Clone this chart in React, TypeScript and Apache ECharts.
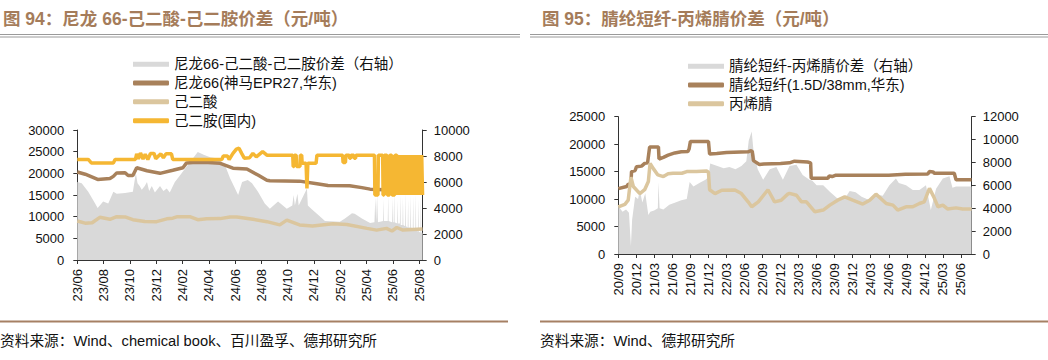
import React, { useEffect, useRef } from "react";
import * as echarts from "echarts";

// ---------- Left chart: 尼龙66 ----------
const leftXLabels = ["23/06","23/08","23/10","23/12","24/02","24/04","24/06","24/08","24/10","24/12","25/02","25/04","25/06","25/08"];
const leftNames = ["尼龙66-己二酸-己二胺价差（右轴）", "尼龙66(神马EPR27,华东)", "己二酸", "己二胺(国内)"];

const nylon66: [string, number][] = [
  ["2023-06-01",20300],["2023-06-19",19800],["2023-07-18",18600],["2023-08-16",18800],["2023-08-24",19300],
  ["2023-09-01",20100],["2023-09-20",20150],["2023-09-27",19500],["2023-10-08",19500],["2023-10-17",21300],
  ["2023-11-10",20600],["2023-12-10",20000],["2024-01-09",20700],["2024-02-02",21300],["2024-02-10",22400],
  ["2024-02-24",22500],["2024-03-30",22500],["2024-04-27",22300],["2024-05-27",21200],["2024-06-28",21000],
  ["2024-07-24",19600],["2024-08-14",18400],["2024-08-21",18300],["2024-10-29",18200],["2024-12-08",17600],
  ["2025-01-03",17200],["2025-02-21",17150],["2025-03-21",16700],["2025-04-09",16350],["2025-05-13",16200],
  ["2025-06-17",16000],["2025-08-09",15900]
];

const adipic: [string, number][] = [
  ["2023-06-01",9000],["2023-06-19",8500],["2023-07-05",8600],["2023-07-23",9850],["2023-08-16",9400],
  ["2023-09-01",10000],["2023-09-20",9950],["2023-10-08",9300],["2023-11-05",8900],["2023-12-02",8850],
  ["2023-12-26",9500],["2024-01-09",9650],["2024-01-20",10000],["2024-02-17",10000],["2024-03-06",9300],
  ["2024-03-27",9500],["2024-04-27",9550],["2024-05-20",9900],["2024-06-05",9900],["2024-07-12",9400],
  ["2024-08-14",8850],["2024-09-13",8100],["2024-09-29",9200],["2024-10-29",8100],["2024-11-28",7850],
  ["2025-01-15",8350],["2025-02-15",8200],["2025-04-02",7300],["2025-04-24",6900],["2025-05-17",7300],
  ["2025-05-30",6700],["2025-06-10",7500],["2025-06-24",6900],["2025-08-09",7150]
];

const hmda: [string, number][] = [
  ["2023-06-01",23200],["2023-06-26",23200],["2023-07-03",22400],["2023-08-24",22400],["2023-08-28",23200],
  ["2023-10-14",23200],["2023-10-17",24500],["2023-10-21",23300],["2023-10-26",24700],["2023-11-01",23300],
  ["2023-11-06",24400],["2023-11-12",23200],["2023-11-18",24600],["2023-11-26",24600],["2023-11-30",23400],
  ["2023-12-12",24500],["2023-12-18",23600],["2023-12-24",24500],["2024-01-06",24500],["2024-01-09",23200],
  ["2024-05-01",23200],["2024-05-04",24000],["2024-05-14",24000],["2024-05-18",23200],["2024-05-27",24600],
  ["2024-06-04",25600],["2024-06-10",25800],["2024-06-16",24600],["2024-06-22",23500],["2024-07-04",23600],
  ["2024-07-12",24600],["2024-07-20",23800],["2024-08-04",25000],["2024-08-14",24200],
  ["2024-10-13",24200],["2024-10-14",21600],["2024-10-16",21600],["2024-10-17",24200],["2024-10-21",24200],
  ["2024-10-22",21600],["2024-10-30",21600],["2024-10-31",24200],["2024-11-03",24200],["2024-11-04",22300],
  ["2024-11-13",22300],["2024-11-15",16500],["2024-11-17",22300],["2024-12-06",22300],["2024-12-08",24200],
  ["2025-02-06",24200],["2025-02-07",22500],["2025-02-12",22500],["2025-02-13",24200],["2025-02-20",24200],
  ["2025-02-21",23500],["2025-02-23",23500],["2025-02-24",24200],["2025-03-02",24200],["2025-03-03",23500],
  ["2025-03-06",23500],["2025-03-07",24200],
  ["2025-04-19",24200],["2025-04-20",15000],["2025-04-27",15000],["2025-04-28",24200],
  ["2025-05-08",24200],["2025-05-09",15000],["2025-05-11",15000],["2025-05-12",24200],
  ["2025-05-18",24200],["2025-05-19",15000],["2025-05-24",15000],["2025-05-25",24200],
  ["2025-05-29",24200],["2025-05-30",15000],["2025-06-05",15000],["2025-06-06",24200],
  ["2025-06-10",24200],["2025-06-11",15000],["2025-06-14",24200],["2025-06-17",15000],["2025-06-20",24200],
  ["2025-06-23",15000],["2025-06-26",24200],["2025-06-29",15000],["2025-07-02",24200],["2025-07-05",15000],
  ["2025-07-08",24200],["2025-07-11",15000],["2025-07-14",24200],["2025-07-17",15000],["2025-07-20",24200],
  ["2025-07-23",15000],["2025-07-26",24200],["2025-07-29",15000],["2025-08-01",24200],["2025-08-04",15000],
  ["2025-08-07",24200],["2025-08-09",15000]
];

const nylonSpread: [string, number][] = [
  ["2023-06-01",6000],["2023-06-11",5900],["2023-06-26",5250],["2023-07-12",4350],["2023-07-18",4000],
  ["2023-07-31",4500],["2023-08-12",4350],["2023-08-24",5250],["2023-09-01",5100],["2023-09-20",5150],
  ["2023-10-08",5250],["2023-10-15",6700],["2023-10-19",5900],["2023-10-24",5700],["2023-10-29",5400],
  ["2023-11-05",5700],["2023-11-10",6000],["2023-11-15",5300],["2023-11-21",5700],["2023-11-28",5200],
  ["2023-12-10",5700],["2023-12-18",5300],["2023-12-26",5500],["2024-01-02",5200],["2024-01-14",6000],
  ["2024-01-26",6500],["2024-02-06",7000],["2024-02-17",7500],["2024-03-06",8300],["2024-03-20",8100],
  ["2024-04-04",7900],["2024-04-22",7800],["2024-05-08",7300],["2024-05-20",6300],["2024-06-08",5000],
  ["2024-06-17",6000],["2024-06-30",6150],["2024-07-10",5900],["2024-07-24",5250],["2024-08-09",4350],
  ["2024-08-21",3950],["2024-09-09",4500],["2024-09-29",3950],["2024-10-12",4200],["2024-10-15",5000],
  ["2024-10-18",4200],["2024-10-24",5100],["2024-10-27",4200],["2024-11-15",5500],["2024-11-17",4200],
  ["2024-11-26",3900],["2024-12-10",3500],["2024-12-27",3000],["2025-01-31",2950],["2025-02-11",3200],
  ["2025-02-26",3600],["2025-03-04",3550],["2025-03-21",3200],["2025-04-09",2850],["2025-04-19",2900],
  ["2025-04-21",4800],["2025-04-23",2900],["2025-04-25",5000],["2025-04-27",2900],["2025-05-09",3000],
  ["2025-05-10",4700],["2025-05-11",3000],["2025-05-20",3000],["2025-05-21",5000],["2025-05-22",3000],
  ["2025-05-30",2900],["2025-05-31",4800],["2025-06-01",2900],["2025-06-03",2900],["2025-06-04",5200],
  ["2025-06-05",2900],["2025-06-11",2800],["2025-06-12",4600],["2025-06-13",2800],["2025-06-17",2800],
  ["2025-06-18",5000],["2025-06-19",2700],["2025-06-23",2700],["2025-06-24",4800],["2025-06-25",2700],
  ["2025-06-29",2600],["2025-06-30",5200],["2025-07-01",2600],["2025-07-05",2500],["2025-07-06",4700],
  ["2025-07-07",2500],["2025-07-11",2500],["2025-07-12",5000],["2025-07-13",2500],["2025-07-17",2400],
  ["2025-07-18",4900],["2025-07-19",2400],["2025-07-23",2300],["2025-07-24",5100],["2025-07-25",2300],
  ["2025-07-29",2200],["2025-07-30",4700],["2025-07-31",2200],["2025-08-04",2100],["2025-08-05",4900],
  ["2025-08-06",2100],["2025-08-09",2100]
];

// ---------- Right chart: 腈纶短纤 ----------
const rightXLabels = ["20/09","20/12","21/03","21/06","21/09","21/12","22/03","22/06","22/09","22/12","23/03","23/06","23/09","23/12","24/03","24/06","24/09","24/12","25/03","25/06"];
const rightNames = ["腈纶短纤-丙烯腈价差（右轴）", "腈纶短纤(1.5D/38mm,华东)", "丙烯腈"];

const acrylicFiber: [string, number][] = [
  ["2020-09-01",11900],["2020-10-13",12300],["2020-10-21",12700],["2020-11-04",12700],["2020-11-07",15000],
  ["2020-11-25",15200],["2020-12-02",15900],["2020-12-28",16000],["2021-01-13",16500],["2021-01-28",16600],
  ["2021-02-07",19500],["2021-03-22",19500],["2021-03-25",17300],["2021-04-16",17600],["2021-05-10",18000],
  ["2021-06-13",18400],["2021-07-16",18600],["2021-08-19",18650],["2021-08-25",19100],["2021-09-01",20500],
  ["2021-12-01",20500],["2021-12-07",18200],["2022-01-13",18300],["2022-03-01",18500],["2022-06-19",18600],
  ["2022-07-01",18800],["2022-07-10",18700],["2022-07-16",17000],["2022-08-16",16300],["2022-09-07",16400],
  ["2022-12-01",16500],["2023-01-16",16600],["2023-02-10",16900],["2023-04-16",16750],["2023-05-01",16600],
  ["2023-05-04",13800],["2023-07-28",13800],["2023-08-04",14200],["2023-08-19",14100],["2023-09-07",14350],
  ["2024-06-01",14350],["2024-08-25",14500],["2024-12-16",14550],["2024-12-25",15000],["2025-01-13",14950],
  ["2025-01-19",14700],["2025-04-28",14700],["2025-05-07",13500],["2025-07-25",13500]
];

const acrylonitrile: [string, number][] = [
  ["2020-09-01",8600],["2020-10-04",9050],["2020-10-21",9800],["2020-11-04",14000],["2020-11-16",12300],
  ["2020-12-19",11000],["2021-01-13",11700],["2021-02-01",13200],["2021-02-09",16500],["2021-02-25",15500],
  ["2021-03-19",14400],["2021-04-16",14100],["2021-05-10",14600],["2021-06-04",14700],["2021-07-19",14700],
  ["2021-08-13",15000],["2021-10-01",15000],["2021-11-22",15100],["2021-12-01",14900],["2021-12-07",11700],
  ["2022-01-04",11000],["2022-02-07",11600],["2022-04-13",11650],["2022-05-16",11000],["2022-06-19",9500],
  ["2022-07-07",8600],["2022-08-10",9500],["2022-09-28",11700],["2022-11-01",9500],["2022-12-04",9800],
  ["2023-01-07",10900],["2023-01-16",11050],["2023-02-19",10700],["2023-03-16",9500],["2023-04-10",9500],
  ["2023-05-22",7700],["2023-07-04",8000],["2023-08-07",8900],["2023-09-16",9800],["2023-10-22",10400],
  ["2023-12-01",9800],["2024-01-22",9100],["2024-02-25",9800],["2024-03-28",10900],["2024-05-19",9200],
  ["2024-06-22",8900],["2024-07-16",8000],["2024-08-28",8600],["2024-10-01",8600],["2024-11-04",9200],
  ["2024-11-28",9500],["2024-12-25",11950],["2025-01-16",10400],["2025-02-06",8600],["2025-03-01",8900],
  ["2025-03-25",8200],["2025-05-07",8400],["2025-06-10",8200],["2025-07-25",8200]
];

const acrylicSpread: [string, number][] = [
  ["2020-09-01",4200],["2020-09-22",3700],["2020-10-10",3900],["2020-10-25",3600],["2020-11-04",700],
  ["2020-11-10",3000],["2020-11-25",5000],["2020-12-10",4800],["2020-12-19",5600],["2021-01-01",4500],
  ["2021-01-16",5300],["2021-02-01",3400],["2021-02-10",3700],["2021-02-28",3800],["2021-03-19",4000],
  ["2021-03-22",6300],["2021-03-28",4000],["2021-04-16",3900],["2021-05-16",4300],["2021-06-16",4500],
  ["2021-07-16",4700],["2021-08-13",4800],["2021-08-28",6300],["2021-09-16",5900],["2021-10-16",6200],
  ["2021-11-16",6500],["2021-12-01",6700],["2021-12-10",7900],["2022-01-16",7700],["2022-02-16",7500],
  ["2022-03-16",7600],["2022-04-16",7400],["2022-05-16",7700],["2022-06-10",8100],["2022-06-22",9900],
  ["2022-07-07",10700],["2022-07-16",9100],["2022-08-07",7400],["2022-09-04",6500],["2022-10-07",7400],
  ["2022-11-10",7600],["2022-12-13",6500],["2023-01-16",7700],["2023-02-19",7800],["2023-03-22",6900],
  ["2023-04-25",6500],["2023-05-10",6400],["2023-06-01",6000],["2023-07-04",6000],["2023-08-07",5450],
  ["2023-09-25",4700],["2023-10-28",5000],["2023-11-16",5500],["2023-12-16",5400],["2024-01-16",5000],
  ["2024-02-25",4700],["2024-03-28",5200],["2024-05-01",5100],["2024-06-04",6000],["2024-07-07",6600],
  ["2024-07-22",6200],["2024-08-28",6000],["2024-10-01",5600],["2024-11-04",5600],["2024-12-07",6000],
  ["2025-01-01",3850],["2025-01-28",5700],["2025-03-01",6600],["2025-04-04",6800],["2025-04-19",5800],
  ["2025-05-07",5900],["2025-07-25",5900]
];

const C_GRAY = "#D9D9D9";
const C_BROWN = "#A8815B";
const C_TAN = "#DBC69E";
const C_YELLOW = "#F5B733";
const C_TITLE = "#A57C5A";
const FONT = '"Liberation Sans", "Noto Sans CJK SC", sans-serif';

function monthsSince(d: string, y0: number, m0: number): number {
  const [y, m, day] = d.split("-").map(Number);
  const dim = new Date(Date.UTC(y, m, 0)).getUTCDate();
  return (y - y0) * 12 + (m - m0) + (day - 1) / dim;
}

const toXY = (arr: [string, number][], y0: number, m0: number) =>
  arr.map(([d, v]) => [monthsSince(d, y0, m0), v]);

const labelFmt = (labels: string[], step: number) => (v: number) => {
  const i = v / step;
  const r = Math.round(i);
  if (Math.abs(i - r) > 1e-6) return "";
  return labels[r] ?? "";
};

const axisLineStyle = { color: "#333", width: 1 };

function xAxisCfg(gridIndex: number, max: number, interval: number, labels: string[]) {
  return {
    type: "value",
    gridIndex,
    min: 0,
    max,
    interval,
    axisLine: { show: true, onZero: false, lineStyle: axisLineStyle },
    axisTick: { show: true, inside: false, length: 4, lineStyle: axisLineStyle },
    splitLine: { show: false },
    axisLabel: {
      rotate: 90,
      margin: 9,
      fontSize: 13,
      color: "#111",
      fontFamily: FONT,
      showMaxLabel: false,
      formatter: labelFmt(labels, interval),
    },
  };
}

function yAxisCfg(gridIndex: number, position: string, max: number, interval: number) {
  return {
    type: "value",
    gridIndex,
    position,
    min: 0,
    max,
    interval,
    axisLine: { show: true, lineStyle: axisLineStyle },
    axisTick: { show: true, inside: false, length: 4, lineStyle: axisLineStyle },
    splitLine: { show: false },
    axisLabel: {
      fontSize: 13, color: "#111", fontFamily: FONT,
      margin: position === "left" ? 13 : 11,
      formatter: (v: number) => String(v),
    },
  };
}

function lineSeries(name: string, data: number[][], color: string, xi: number, yi: number, z: number) {
  return {
    name, type: "line", xAxisIndex: xi, yAxisIndex: yi, data, color,
    symbol: "none", showSymbol: false, z,
    lineStyle: { color, width: 3.5 },
  };
}

function areaSeries(name: string, data: number[][], xi: number, yi: number) {
  return {
    name, type: "line", xAxisIndex: xi, yAxisIndex: yi, data, color: C_GRAY,
    symbol: "none", showSymbol: false, z: 1,
    lineStyle: { width: 0, color: C_GRAY },
    areaStyle: { color: C_GRAY, opacity: 1 },
  };
}

function legendCfg(left: number, top: number, names: string[]) {
  return {
    orient: "vertical",
    left, top,
    itemWidth: 36, itemHeight: 5, itemGap: 4.3,
    selectedMode: false,
    textStyle: { fontSize: 14.5, lineHeight: 14, color: "#111", fontFamily: FONT },
    data: names.map((n, i) => ({ name: n, icon: i === 0 ? "rect" : "roundRect" })),
  };
}

function text(x: number, y: number, t: string, size: number, color: string, weight = "normal") {
  return {
    type: "text", x, y, silent: true,
    style: { text: t, fill: color, fontSize: size, fontWeight: weight, fontFamily: FONT, verticalAlign: "middle" },
  };
}

function hline(x1: number, x2: number, y: number, color: string, w: number) {
  return { type: "line", silent: true, shape: { x1, y1: y, x2, y2: y }, style: { stroke: color, lineWidth: w } };
}

export default function App() {
  const ref = useRef<HTMLDivElement>(null);
  useEffect(() => {
    if (!ref.current) return;
    const chart = echarts.init(ref.current, undefined, { renderer: "svg" });
    chart.setOption({
      animation: false,
      graphic: [
        text(3, 18.5, "图 94：尼龙 66-己二酸-己二胺价差（元/吨）", 17.5, C_TITLE, "bold"),
        text(542, 18.5, "图 95：腈纶短纤-丙烯腈价差（元/吨）", 17.5, C_TITLE, "bold"),
        hline(0, 520, 34.5, "#9a9a9a", 1),
        hline(0, 520, 37, "#9a9a9a", 1),
        hline(530, 1048, 34.5, "#9a9a9a", 1),
        hline(530, 1048, 37, "#9a9a9a", 1),
        hline(0, 508, 321.5, "#A68064", 2),
        hline(540, 1048, 321.5, "#A68064", 2),
        text(0, 340.5, "资料来源：Wind、chemical book、百川盈孚、德邦研究所", 14.7, "#111"),
        text(540, 340.5, "资料来源：Wind、德邦研究所", 14.7, "#111"),
      ],
      legend: [legendCfg(128, 52, leftNames), legendCfg(683, 54, rightNames)],
      grid: [
        { left: 77.3, right: 1048 - 422.7, top: 130, bottom: 100, containLabel: false },
        { left: 618.3, right: 1048 - 971.7, top: 116.7, bottom: 106, containLabel: false },
      ],
      xAxis: [xAxisCfg(0, 26.27, 2, leftXLabels), xAxisCfg(1, 58.8, 3, rightXLabels)],
      yAxis: [
        yAxisCfg(0, "left", 30000, 5000),
        yAxisCfg(0, "right", 10000, 2000),
        yAxisCfg(1, "left", 25000, 5000),
        yAxisCfg(1, "right", 12000, 2000),
      ],
      series: [
        areaSeries(leftNames[0], toXY(nylonSpread, 2023, 6), 0, 1),
        lineSeries(leftNames[1], toXY(nylon66, 2023, 6), C_BROWN, 0, 0, 3),
        lineSeries(leftNames[2], toXY(adipic, 2023, 6), C_TAN, 0, 0, 3),
        lineSeries(leftNames[3], toXY(hmda, 2023, 6), C_YELLOW, 0, 0, 4),
        areaSeries(rightNames[0], toXY(acrylicSpread, 2020, 9), 1, 3),
        lineSeries(rightNames[1], toXY(acrylicFiber, 2020, 9), C_BROWN, 1, 2, 3),
        lineSeries(rightNames[2], toXY(acrylonitrile, 2020, 9), C_TAN, 1, 2, 3),
      ],
    });
    return () => chart.dispose();
  }, []);
  return <div ref={ref} style={{ position: "fixed", left: 0, top: 0, width: 1048, height: 360, background: "#fff" }} />;
}
